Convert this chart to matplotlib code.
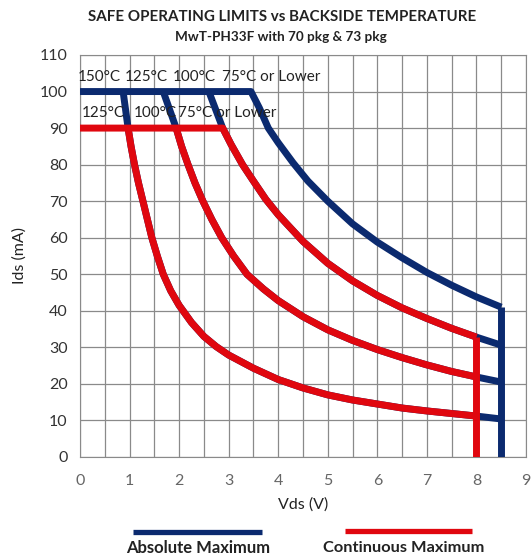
import matplotlib
matplotlib.use('Agg')
import matplotlib.pyplot as plt
from matplotlib.lines import Line2D

plt.rcParams['font.family'] = ['Lato', 'DejaVu Sans']

# continuous maximum curves (red)
cont_75_x = [0, 2.88, 3.05, 3.28, 3.5, 3.75, 4.0, 4.5, 5.0, 5.5, 6.0, 6.5, 7.0, 7.5, 8.0]
cont_75_y = [90, 90, 85.5, 80, 75.5, 70.5, 66.3, 59, 53, 48.2, 44.2, 40.8, 37.9, 35.2, 32.8]
cont_100_x = [1.94, 2.05, 2.18, 2.32, 2.48, 2.66, 2.86, 3.1, 3.37, 3.7, 4.0, 4.5, 5.0, 5.5, 6.0, 6.5, 7.0, 7.5, 8.0]
cont_100_y = [90, 85, 80, 75, 70, 65, 60, 55, 50, 46, 42.8, 38.4, 34.8, 31.9, 29.4, 27.2, 25.2, 23.4, 21.9]
cont_125_x = [0.97, 1.03, 1.1, 1.18, 1.27, 1.36, 1.45, 1.56, 1.68, 1.83, 2.0, 2.25, 2.5, 2.75, 3.0, 3.5, 4.0, 4.5, 5.0, 5.5, 6.0, 6.5, 7.0, 7.5, 8.0]
cont_125_y = [90, 85, 80, 75, 70, 65, 60, 55, 50, 45.5, 41.5, 36.8, 33, 30.2, 27.9, 24.3, 21.2, 18.9, 17, 15.6, 14.5, 13.4, 12.6, 11.9, 11.2]
cont_edge_x = [8, 8]
cont_edge_y = [32.8, 0]

# absolute maximum curves (blue): a short top segment, then they run under
# the red curves and go on to 8.5 V
abs_75_x = [0, 3.45, 3.62, 3.8, 4.0, 4.3, 4.6, 5.0, 5.5, 6.0, 6.5, 7.0, 7.5, 8.0, 8.5]
abs_75_y = [100, 100, 95.5, 90, 86, 80.5, 75.5, 70, 63.8, 58.8, 54.5, 50.5, 47, 43.8, 41]
abs_100_x = [2.6] + cont_75_x[1:] + [8.5]
abs_100_y = [100] + cont_75_y[1:] + [30.6]
abs_125_x = [1.68] + cont_100_x + [8.5]
abs_125_y = [100] + cont_100_y + [20.5]
abs_150_x = [0.87] + cont_125_x + [8.5]
abs_150_y = [100] + cont_125_y + [10.4]
abs_edge_x = [8.5, 8.5]
abs_edge_y = [41, 0]

abs_labels = ['150°C', '125°C', '100°C', '75°C or Lower']
abs_label_x = [-0.04, 0.91, 1.87, 2.86]
cont_labels = ['125°C', '100°C', '75°C or Lower']
cont_label_x = [0.04, 1.09, 1.98]

blue = '#0b2a6f'
red = '#e0070f'
lw = 5

fig = plt.figure(figsize=(5.31, 5.6), dpi=100)
ax = fig.add_axes([80 / 531, 1 - 457 / 560, 446 / 531, 402 / 560])

line_kw = dict(lw=lw, solid_capstyle='butt', solid_joinstyle='round')
for xs, ys in [(abs_75_x, abs_75_y), (abs_100_x, abs_100_y), (abs_125_x, abs_125_y),
               (abs_150_x, abs_150_y), (abs_edge_x, abs_edge_y)]:
    ax.plot(xs, ys, color=blue, zorder=3, **line_kw)
for xs, ys in [(cont_75_x, cont_75_y), (cont_100_x, cont_100_y),
               (cont_125_x, cont_125_y), (cont_edge_x, cont_edge_y)]:
    ax.plot(xs, ys, color=red, zorder=4, **line_kw)

for lab, x in zip(abs_labels, abs_label_x):
    ax.text(x, 104, lab, fontsize=11, color='#222222', va='center', zorder=5)
for lab, x in zip(cont_labels, cont_label_x):
    ax.text(x, 94.2, lab, fontsize=11, color='#222222', va='center', zorder=5)

ax.set_xlim(0, 9)
ax.set_ylim(0, 110)
ax.set_xticks(range(0, 10))
ax.set_xticks([i + 0.5 for i in range(9)], minor=True)
ax.set_yticks(range(0, 111, 10))
ax.grid(True, which='both', axis='x', color='#8a8a8a', lw=0.9)
ax.grid(True, which='major', axis='y', color='#8a8a8a', lw=0.9)
ax.set_axisbelow(True)
for s in ax.spines.values():
    s.set_color('#8a8a8a')
ax.tick_params(which='both', length=0, labelsize=11.5)
ax.tick_params(axis='x', labelcolor='#666666', pad=12)
ax.tick_params(axis='y', labelcolor='#333333', pad=9)
ax.set_xlabel('Vds (V)', fontsize=11.5, color='#222222', labelpad=7)
ax.set_ylabel('Ids (mA)', fontsize=11.5, color='#222222', labelpad=9)

fig.text(282 / 531, 1 - 17 / 560, 'SAFE OPERATING LIMITS vs BACKSIDE TEMPERATURE',
         ha='center', va='center', fontsize=10.9, fontweight='bold', color='#222222')
fig.text(281 / 531, 1 - 37 / 560, 'MwT-PH33F with 70 pkg & 73 pkg',
         ha='center', va='center', fontsize=9.7, fontweight='bold', color='#222222')

# legend: line above bold label
fig.add_artist(Line2D([133 / 531, 262 / 531], [1 - 532 / 560] * 2, color=blue, lw=3.8,
                      solid_capstyle='butt', transform=fig.transFigure))
fig.add_artist(Line2D([345 / 531, 472 / 531], [1 - 531 / 560] * 2, color=red, lw=3.8,
                      solid_capstyle='butt', transform=fig.transFigure))
fig.text(198 / 531, 1 - 548 / 560, 'Absolute Maximum', ha='center', va='center',
         fontsize=12, fontweight='bold', color='#222222')
fig.text(404 / 531, 1 - 548 / 560, 'Continuous Maximum', ha='center', va='center',
         fontsize=11.8, fontweight='bold', color='#222222')

fig.savefig('out.png', dpi=100)
